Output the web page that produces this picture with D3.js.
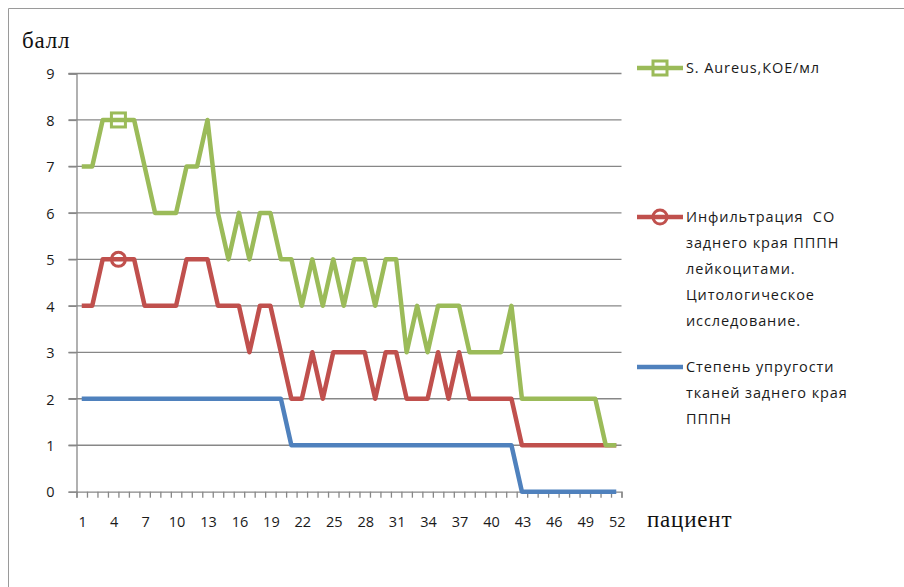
<!DOCTYPE html>
<html>
<head>
<meta charset="utf-8">
<script src="https://cdn.jsdelivr.net/npm/d3@7/dist/d3.min.js"></script>
<style>
  html, body { margin: 0; padding: 0; background: #fff; }
  svg { display: block; }
  text { white-space: pre; }
</style>
</head>
<body>
<svg id="chart" width="904" height="587"></svg>
<script>
// Patient numbers on the category axis
const patients = [1,2,3,4,5,6,7,8,9,10,11,12,13,14,15,16,17,18,19,20,21,22,23,24,25,26,
                  27,28,29,30,31,32,33,34,35,36,37,38,39,40,41,42,43,44,45,46,47,48,49,50,51,52];
// Labelled patient numbers (every third)
const xTickLabels = [1,4,7,10,13,16,19,22,25,28,31,34,37,40,43,46,49,52];
// Score axis ticks
const yTicks = [0,1,2,3,4,5,6,7,8,9];

// S. Aureus, CFU/ml score
const aureus = [7,7,8,8,8,8,7,6,6,6,7,7,8,6,5,6,5,6,6,5,5,4,5,4,5,4,
                5,5,4,5,5,3,4,3,4,4,4,3,3,3,3,4,2,2,2,2,2,2,2,2,1,1];
// Leukocyte infiltration score (cytology)
const infiltration = [4,4,5,5,5,5,4,4,4,4,5,5,5,4,4,4,3,4,4,3,2,2,3,2,3,3,
                      3,3,2,3,3,2,2,2,3,2,3,2,2,2,2,2,1,1,1,1,1,1,1,1,1,1];
// Tissue elasticity score
const elasticity = [2,2,2,2,2,2,2,2,2,2,2,2,2,2,2,2,2,2,2,2,1,1,1,1,1,1,
                    1,1,1,1,1,1,1,1,1,1,1,1,1,1,1,1,0,0,0,0,0,0,0,0,0,0];

// Single marker placed on the two upper series (position on the patient axis, value)
const aureusMarker = [4.5, 8];
const infiltrationMarker = [4.5, 5];

const legendAureus = ["S. Aureus,КОЕ/мл"];
const legendInfiltration = ["Инфильтрация  СО", "заднего края ПППН", "лейкоцитами.", "Цитологическое", "исследование."];
const legendElasticity = ["Степень упругости", "тканей заднего края", "ПППН"];

const COLORS = { aureus: "#9BBB59", infiltration: "#C0504D", elasticity: "#4F81BD" };

const svg = d3.select("#chart");

// outer frame (left and top edges)
svg.append("path")
  .attr("d", "M8.5,587 V8.5 H904")
  .attr("fill", "none").attr("stroke", "#9a9a9a").attr("stroke-width", 1);

const plot = { left: 76.5, right: 621.5, top: 73.5, bottom: 491.7 };

const x = d3.scaleLinear().domain([0.5, patients.length + 0.5]).range([plot.left, plot.right]);
const y = d3.scaleLinear().domain([0, 9]).range([plot.bottom, plot.top]);

const FONT = "'Open Sans', 'DejaVu Sans', sans-serif";
const SERIF = "'Liberation Serif', 'DejaVu Serif', serif";

// horizontal gridlines with left tick stubs
svg.append("g")
  .selectAll("line").data(yTicks.filter(d => d > 0)).join("line")
  .attr("x1", plot.left - 8).attr("x2", plot.right)
  .attr("y1", d => y(d)).attr("y2", d => y(d))
  .attr("stroke", "#878787").attr("stroke-width", 1.3);

// y axis
const yAxis = d3.axisLeft(y).tickValues(yTicks).tickSize(8).tickPadding(14).tickFormat(d3.format("d"));
const gy = svg.append("g").attr("transform", `translate(${plot.left},0)`).call(yAxis);
gy.select(".domain").attr("stroke", "#878787").attr("stroke-width", 1.3);
gy.selectAll(".tick line").attr("stroke", "#878787").attr("stroke-width", 1.3);
gy.selectAll(".tick text").attr("font-family", FONT).attr("font-size", 14.5).attr("fill", "#1a1a1a")
  .attr("text-anchor", "middle").attr("x", -26).attr("dy", "0.36em");

// x axis: ticks between categories
const boundaries = d3.range(patients.length + 1).map(i => i + 0.5);
const xAxis = d3.axisBottom(x).tickValues(boundaries).tickSize(6).tickFormat("");
const gx = svg.append("g").attr("transform", `translate(0,${plot.bottom})`).call(xAxis);
gx.select(".domain").attr("stroke", "#878787").attr("stroke-width", 1.3);
gx.selectAll(".tick line").attr("stroke", "#878787").attr("stroke-width", 1.3);

svg.append("g").selectAll("text").data(xTickLabels).join("text")
  .attr("x", d => x(d) + 1).attr("y", 527)
  .attr("text-anchor", "middle")
  .attr("font-family", FONT).attr("font-size", 14.5).attr("fill", "#1a1a1a")
  .text(d => d);

// axis titles
svg.append("text").attr("x", 22).attr("y", 48)
  .attr("font-family", SERIF).attr("font-size", 23).attr("letter-spacing", 0.8).attr("fill", "#111")
  .text("балл");
svg.append("text").attr("x", 647).attr("y", 527)
  .attr("font-family", SERIF).attr("font-size", 23).attr("letter-spacing", 0.8).attr("fill", "#111")
  .text("пациент");

// series lines
const line = d3.line().x((d, i) => x(patients[i])).y(d => y(d));
const series = [
  { values: elasticity, color: COLORS.elasticity },
  { values: infiltration, color: COLORS.infiltration },
  { values: aureus, color: COLORS.aureus }
];
svg.append("g").selectAll("path").data(series).join("path")
  .attr("d", s => line(s.values))
  .attr("fill", "none").attr("stroke", s => s.color)
  .attr("stroke-width", 4.5).attr("stroke-linejoin", "round");

// markers
function squareMarker(g, cx, cy, color) {
  g.append("rect").attr("x", cx - 7).attr("y", cy - 7).attr("width", 14).attr("height", 14)
    .attr("fill", "none").attr("stroke", color).attr("stroke-width", 3);
}
function circleMarker(g, cx, cy, color) {
  g.append("circle").attr("cx", cx).attr("cy", cy).attr("r", 7)
    .attr("fill", "none").attr("stroke", color).attr("stroke-width", 3);
}
const mk = svg.append("g");
squareMarker(mk, x(aureusMarker[0]), y(aureusMarker[1]), COLORS.aureus);
circleMarker(mk, x(infiltrationMarker[0]), y(infiltrationMarker[1]), COLORS.infiltration);

// legend
const legend = svg.append("g");
const legendItems = [
  { lines: legendAureus, color: COLORS.aureus, marker: squareMarker, y0: 68 },
  { lines: legendInfiltration, color: COLORS.infiltration, marker: circleMarker, y0: 217 },
  { lines: legendElasticity, color: COLORS.elasticity, marker: null, y0: 367 }
];
const LINE_H = 26;
legendItems.forEach(item => {
  legend.append("line").attr("x1", 637).attr("x2", 683)
    .attr("y1", item.y0).attr("y2", item.y0)
    .attr("stroke", item.color).attr("stroke-width", 4.5);
  if (item.marker) item.marker(legend, 660, item.y0, item.color);
  item.lines.forEach((t, i) => {
    legend.append("text").attr("x", 686).attr("y", item.y0 + i * LINE_H).attr("dy", "0.36em")
      .attr("font-family", FONT).attr("font-size", 14.5).attr("letter-spacing", 0.9).attr("fill", "#1a1a1a")
      .text(t);
  });
});
</script>
</body>
</html>
